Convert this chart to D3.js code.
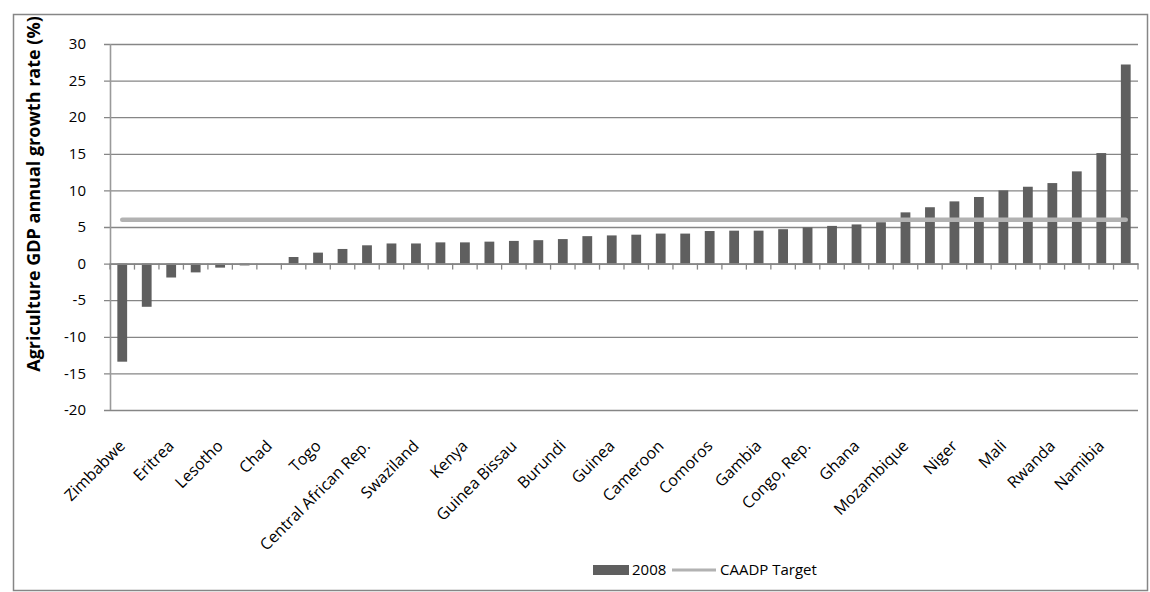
<!DOCTYPE html>
<html>
<head>
<meta charset="utf-8">
<script src="https://cdn.jsdelivr.net/npm/d3@7"></script>
<style>
  html, body { margin: 0; padding: 0; background: #ffffff; }
  svg { display: block; font-family: "Open Sans", Lato, sans-serif; }
</style>
</head>
<body>
<svg id="chart" width="1150" height="592"></svg>
<script>
// Countries ranked by 2008 agricultural GDP growth; only every other one is labelled on the axis.
const categories = [
  "Zimbabwe", "", "Eritrea", "", "Lesotho", "", "Chad", "", "Togo", "",
  "Central African Rep.", "", "Swaziland", "", "Kenya", "", "Guinea Bissau", "", "Burundi", "",
  "Guinea", "", "Cameroon", "", "Comoros", "", "Gambia", "", "Congo, Rep.", "",
  "Ghana", "", "Mozambique", "", "Niger", "", "Mali", "", "Rwanda", "",
  "Namibia", ""
];
const growth2008 = [
  -13.4, -5.9, -1.9, -1.2, -0.55, -0.25, 0.0, 0.9, 1.5, 2.0,
  2.5, 2.75, 2.75, 2.9, 2.9, 3.0, 3.1, 3.2, 3.35, 3.75,
  3.85, 3.95, 4.1, 4.1, 4.45, 4.5, 4.5, 4.7, 4.95, 5.15,
  5.35, 5.65, 7.0, 7.7, 8.5, 9.1, 10.0, 10.5, 11.0, 12.6,
  15.1, 27.2
];
const caadpTarget = 6;
const yTicks = [30, 25, 20, 15, 10, 5, 0, -5, -10, -15, -20];
const seriesNames = ["2008", "CAADP Target"];

const svg = d3.select("#chart");
const plot = { left: 110, right: 1138, top: 44, bottom: 410 };
const gridColor = "#868686";
const barColor = "#5f5f5f";
const targetColor = "#b2b2b2";

// Chart area frame
svg.append("rect")
  .attr("x", 13.5).attr("y", 14.5)
  .attr("width", 1134).attr("height", 576)
  .attr("fill", "#fff")
  .attr("stroke", gridColor).attr("stroke-width", 1.5);

const idx = d3.range(categories.length);
const x = d3.scaleBand().domain(idx).range([plot.left, plot.right])
  .paddingInner(0.6).paddingOuter(0.3);
const xCat = d3.scaleBand().domain(idx).range([plot.left, plot.right]).padding(0);
const y = d3.scaleLinear().domain([-20, 30]).range([plot.bottom, plot.top]);

// Horizontal gridlines, extending a little past the value axis as ticks
const gy = svg.append("g").attr("transform", `translate(${plot.right},0)`)
  .call(d3.axisLeft(y).tickValues(yTicks).tickSize(plot.right - plot.left + 6).tickFormat(""));
gy.select(".domain").remove();
gy.selectAll(".tick line").attr("stroke", gridColor).attr("stroke-width", 1.3);

// Tick labels of the value axis (plain hyphen-minus for negatives)
svg.append("g").selectAll("text").data(yTicks).join("text")
  .attr("x", 86).attr("y", d => y(d))
  .attr("dy", "0.35em")
  .attr("text-anchor", "end")
  .attr("font-size", 15)
  .attr("fill", "#000")
  .text(d => String(d));

// Vertical axis line
svg.append("line")
  .attr("x1", plot.left + 0.5).attr("x2", plot.left + 0.5)
  .attr("y1", plot.top).attr("y2", plot.bottom)
  .attr("stroke", "#9a9a9a").attr("stroke-width", 1.6);

// Bars
svg.append("g").selectAll("rect").data(growth2008).join("rect")
  .attr("x", (d, i) => x(i))
  .attr("width", x.bandwidth())
  .attr("y", d => y(Math.max(0, d)))
  .attr("height", d => Math.abs(y(d) - y(0)))
  .attr("fill", barColor);

// Category axis at zero, ticks between categories
const gx = svg.append("g").attr("transform", `translate(0,${y(0)})`)
  .call(d3.axisBottom(xCat).tickSize(0).tickFormat(""));
gx.select(".domain").attr("stroke", gridColor).attr("stroke-width", 1.6);
gx.selectAll(".tick").remove();
const boundaries = idx.map(i => xCat(i)).concat([xCat(idx.length - 1) + xCat.bandwidth()]);
gx.selectAll("line.cat").data(boundaries).join("line")
  .attr("class", "cat")
  .attr("x1", d => d).attr("x2", d => d)
  .attr("y1", 0).attr("y2", 6)
  .attr("stroke", gridColor).attr("stroke-width", 1.3);

// CAADP target line
const targetLine = d3.line().x(i => x(i) + x.bandwidth() / 2).y(() => y(caadpTarget));
svg.append("path")
  .datum([0, idx.length - 1])
  .attr("d", targetLine)
  .attr("fill", "none")
  .attr("stroke", targetColor)
  .attr("stroke-width", 4.5)
  .attr("stroke-linecap", "round");

// Category labels below the plot, rotated
svg.append("g").selectAll("text").data(idx.filter(i => categories[i] !== "")).join("text")
  .attr("transform", i => `translate(${x(i) + x.bandwidth() / 2},443) rotate(-45)`)
  .attr("dy", "0.35em")
  .attr("text-anchor", "end")
  .attr("font-size", 16)
  .attr("fill", "#000")
  .text(i => categories[i]);

// Axis title
svg.append("text")
  .attr("transform", "translate(39.5,194) rotate(-90)")
  .attr("text-anchor", "middle")
  .attr("font-size", 18)
  .attr("font-weight", "bold")
  .attr("fill", "#000")
  .text("Agriculture GDP annual growth rate (%)");

// Legend
const legend = svg.append("g");
legend.append("rect")
  .attr("x", 593).attr("y", 565).attr("width", 36).attr("height", 10)
  .attr("fill", barColor);
legend.append("text")
  .attr("x", 632).attr("y", 570).attr("dy", "0.35em")
  .attr("font-size", 15).attr("fill", "#000")
  .text(seriesNames[0]);
legend.append("line")
  .attr("x1", 672).attr("x2", 716).attr("y1", 570).attr("y2", 570)
  .attr("stroke", targetColor).attr("stroke-width", 3);
legend.append("text")
  .attr("x", 720).attr("y", 570).attr("dy", "0.35em")
  .attr("font-size", 15).attr("fill", "#000")
  .text(seriesNames[1]);
</script>
</body>
</html>
